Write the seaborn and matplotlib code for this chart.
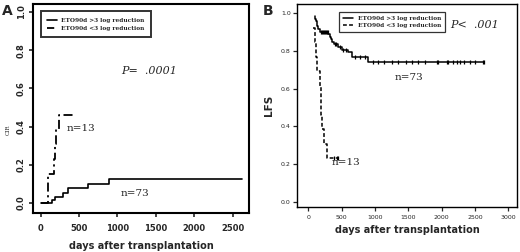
import numpy as np
import pandas as pd
import matplotlib
matplotlib.use('Agg')
import matplotlib.pyplot as plt
import seaborn as sns
from matplotlib.lines import Line2D

sns.set_style('ticks')
plt.rcParams['font.family'] = ['DejaVu Sans']

# Panel A: cumulative incidence of relapse (CIR)
cir_good_days = [0, 143, 186, 294, 359, 618, 891, 2620]
cir_good_vals = [0.0, 0.017, 0.03, 0.05, 0.08, 0.10, 0.125, 0.125]
cir_poor_days = [0, 100, 173, 188, 205, 242, 445]
cir_poor_vals = [0.0, 0.154, 0.231, 0.308, 0.385, 0.462, 0.462]

# Panel B: leukemia-free survival (LFS)
lfs_good_days = [95, 105, 115, 125, 135, 150, 170, 300, 320, 340, 360, 385,
                 450, 500, 600, 650, 890, 2640]
lfs_good_vals = [0.986, 0.973, 0.959, 0.945, 0.932, 0.918, 0.904, 0.890,
                 0.877, 0.863, 0.849, 0.836, 0.822, 0.808, 0.795, 0.767,
                 0.740, 0.740]
lfs_good_cens = [185, 200, 215, 230, 245, 260, 275, 290, 395, 420, 470, 520,
                 560, 700, 780, 850, 975, 1050, 1135, 1250, 1350, 1460, 1550,
                 1650, 1750, 1926, 1942, 2077, 2093, 2168, 2228, 2278, 2338,
                 2419, 2504, 2619, 2640]
lfs_poor_days = [75, 95, 110, 122, 170, 188, 195, 202, 235, 280, 445]
lfs_poor_vals = [0.923, 0.846, 0.769, 0.692, 0.615, 0.538, 0.462, 0.385,
                 0.308, 0.231, 0.231]
lfs_poor_cens = [385, 425, 445]

labels = ['ETO90d >3 log reduction', 'ETO90d <3 log reduction']


def step_value(days, vals, t):
    i = np.searchsorted(days, t, side='right') - 1
    return np.array(vals)[i]


fig = plt.figure(figsize=(5.2, 2.52), dpi=100)
axA = fig.add_axes([0.0635, 0.155, 0.415, 0.829])
axB = fig.add_axes([0.571, 0.179, 0.423, 0.805])

# ---- A ----
dfa1 = pd.DataFrame({'days': cir_good_days, 'v': cir_good_vals})
dfa2 = pd.DataFrame({'days': cir_poor_days, 'v': cir_poor_vals})
sns.lineplot(data=dfa1, x='days', y='v', drawstyle='steps-post', color='black',
             linewidth=1.2, estimator=None, sort=False, ax=axA)
sns.lineplot(data=dfa2, x='days', y='v', drawstyle='steps-post', color='black',
             linewidth=1.3, linestyle=(0, (5, 2, 1.2, 2)), estimator=None,
             sort=False, ax=axA)
axA.set_xlim(-100, 2712)
axA.set_ylim(-0.052, 1.042)
axA.set_xticks([0, 500, 1000, 1500, 2000, 2500])
axA.set_xticklabels(['0', '500', '1000', '1500', '2000', '2500'],
                    fontsize=6, fontweight='bold')
axA.set_yticks([0, 0.2, 0.4, 0.6, 0.8, 1.0])
axA.set_yticklabels(['0.0', '0.2', '0.4', '0.6', '0.8', '1.0'], fontsize=6,
                    fontweight='bold', rotation=90, va='center')
axA.tick_params(direction='out', length=3, width=1.2, pad=2)
axA.tick_params(axis='x', pad=5)
for s in axA.spines.values():
    s.set_linewidth(1.5)
    s.set_color('black')
axA.set_xlabel('days after transplantation', fontsize=7, fontweight='bold',
               labelpad=6)
axA.set_ylabel('CIR', fontsize=4, family='serif', labelpad=7)
axA.yaxis.set_label_coords(-0.105, 0.4)
axA.text(1410, 0.69, 'P=  .0001', family='serif', style='italic', fontsize=8,
         ha='center', va='center')
axA.text(342, 0.39, 'n=13', family='serif', fontsize=7.5, va='center')
axA.text(1045, 0.05, 'n=73', family='serif', fontsize=7.5, va='center')
hA = [Line2D([], [], color='black', lw=1.2),
      Line2D([], [], color='black', lw=1.3, linestyle=(0, (4, 2, 1.2, 2)))]
legA = axA.legend(hA, labels, loc='upper left', bbox_to_anchor=(0.037, 0.966),
                  prop={'family': 'serif', 'weight': 'bold', 'size': 4.2},
                  frameon=True, fancybox=False, borderpad=1.1,
                  labelspacing=0.5, handlelength=1.6, handletextpad=0.7,
                  borderaxespad=0)
legA.get_frame().set_edgecolor('black')
legA.get_frame().set_linewidth(1.4)
fig.text(0.003, 0.985, 'A', fontsize=10, fontweight='bold', va='top')

# ---- B ----
dfb1 = pd.DataFrame({'days': lfs_good_days, 'v': lfs_good_vals})
dfb2 = pd.DataFrame({'days': lfs_poor_days, 'v': lfs_poor_vals})
sns.lineplot(data=dfb1, x='days', y='v', drawstyle='steps-post', color='black',
             linewidth=1.1, estimator=None, sort=False, ax=axB)
sns.lineplot(data=dfb2, x='days', y='v', drawstyle='steps-post', color='black',
             linewidth=1.1, linestyle=(0, (2.5, 1.5)), estimator=None,
             sort=False, ax=axB)
cg = pd.DataFrame({'days': lfs_good_cens,
                   'v': step_value(lfs_good_days, lfs_good_vals, lfs_good_cens)})
cp = pd.DataFrame({'days': lfs_poor_cens,
                   'v': step_value(lfs_poor_days, lfs_poor_vals, lfs_poor_cens)})
for c in (cg, cp):
    sns.scatterplot(data=c, x='days', y='v', marker='|', s=7, color='black',
                    linewidth=0.9, ax=axB)
axB.set_xlim(-172, 3126)
axB.set_ylim(-0.028, 1.05)
axB.set_xticks([0, 500, 1000, 1500, 2000, 2500, 3000])
axB.set_xticklabels(['0', '500', '1000', '1500', '2000', '2500', '3000'],
                    fontsize=4.5)
axB.set_yticks([0, 0.2, 0.4, 0.6, 0.8, 1.0])
axB.set_yticklabels(['0.0', '0.2', '0.4', '0.6', '0.8', '1.0'], fontsize=4.5)
axB.tick_params(direction='out', length=3, width=0.9, pad=1.5)
axB.tick_params(axis='x', pad=2.5)
for s in axB.spines.values():
    s.set_linewidth(1.0)
    s.set_color('black')
axB.set_xlabel('days after transplantation', fontsize=7, fontweight='bold',
               labelpad=4)
axB.set_ylabel('LFS', fontsize=7.5, fontweight='bold', labelpad=5)
axB.text(2128, 0.94, 'P<  .001', family='serif', style='italic', fontsize=8,
         va='center')
axB.text(1300, 0.66, 'n=73', family='serif', fontsize=7.5, va='center')
axB.text(355, 0.21, 'n=13', family='serif', fontsize=7.5, va='center')
hB = [Line2D([], [], color='black', lw=1.1),
      Line2D([], [], color='black', lw=1.1, linestyle=(0, (2.5, 1.5)))]
legB = axB.legend(hB, labels, loc='upper left', bbox_to_anchor=(0.19, 0.96),
                  prop={'family': 'serif', 'weight': 'bold', 'size': 4.2},
                  frameon=True, fancybox=False, borderpad=0.7,
                  labelspacing=0.3, handlelength=1.8, handletextpad=0.8,
                  borderaxespad=0)
legB.get_frame().set_edgecolor('black')
legB.get_frame().set_linewidth(0.9)
fig.text(0.505, 0.985, 'B', fontsize=10, fontweight='bold', va='top')

fig.savefig('out.png', dpi=100)
